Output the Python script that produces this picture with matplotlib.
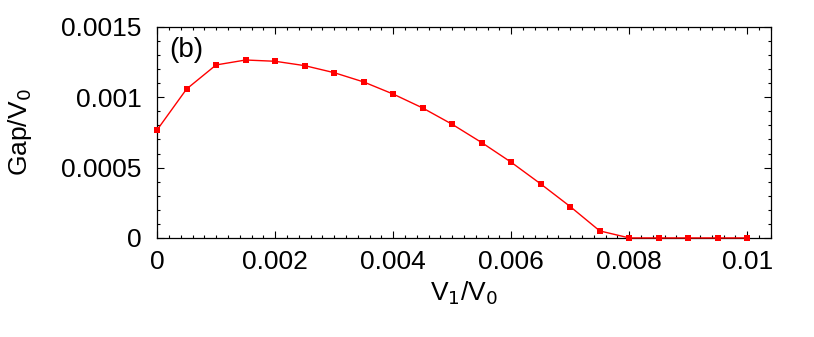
import matplotlib
matplotlib.use("Agg")
import matplotlib.pyplot as plt
from matplotlib.ticker import MultipleLocator, FuncFormatter

# V1/V0 and the gap
v1 = [0.0, 0.0005, 0.001, 0.0015, 0.002, 0.0025, 0.003, 0.0035, 0.004,
      0.0045, 0.005, 0.0055, 0.006, 0.0065, 0.007, 0.0075, 0.008,
      0.0085, 0.009, 0.0095, 0.01]
gap = [0.000768, 0.001059, 0.00123, 0.001265, 0.001256, 0.001225,
       0.001175, 0.001109, 0.001023, 0.000924, 0.000808, 0.000678,
       0.000538, 0.000384, 0.000223, 0.00005, 0.0, 0.0, 0.0, 0.0, 0.0]

plt.rcParams['font.family'] = ['Liberation Sans', 'DejaVu Sans']

fig = plt.figure(figsize=(8.14, 3.37), dpi=100)
ax = fig.add_axes([0.193, 0.294, 0.754, 0.626])

ax.plot(v1, gap, color='red', lw=1.0, marker='s', ms=5,
        markeredgewidth=0, clip_on=False, zorder=3)

ax.set_xlim(0, 0.0104)
ax.set_ylim(0, 0.0015)

ax.xaxis.set_major_locator(MultipleLocator(0.002))
ax.xaxis.set_minor_locator(MultipleLocator(0.0002))
ax.yaxis.set_major_locator(MultipleLocator(0.0005))
ax.yaxis.set_minor_locator(MultipleLocator(0.0001))

fmt = FuncFormatter(lambda v, p: '%g' % round(v, 6))
ax.xaxis.set_major_formatter(fmt)
ax.yaxis.set_major_formatter(fmt)

ax.tick_params(which='both', direction='in', top=True, right=True,
               labelsize=19, width=0.8)
ax.tick_params(which='major', length=5)
ax.tick_params(which='minor', length=2.5)
ax.tick_params(axis='x', pad=9)
ax.tick_params(axis='y', pad=11)
for s in ax.spines.values():
    s.set_linewidth(0.9)

ax.set_xlabel('V$_1$/V$_0$', fontsize=19, labelpad=4)
ax.set_ylabel('Gap/V$_0$', fontsize=19, labelpad=20)
ax.text(0.019, 0.89, '(b)', transform=ax.transAxes, fontsize=20,
        va='center', ha='left')

fig.savefig('out.png', dpi=100)
